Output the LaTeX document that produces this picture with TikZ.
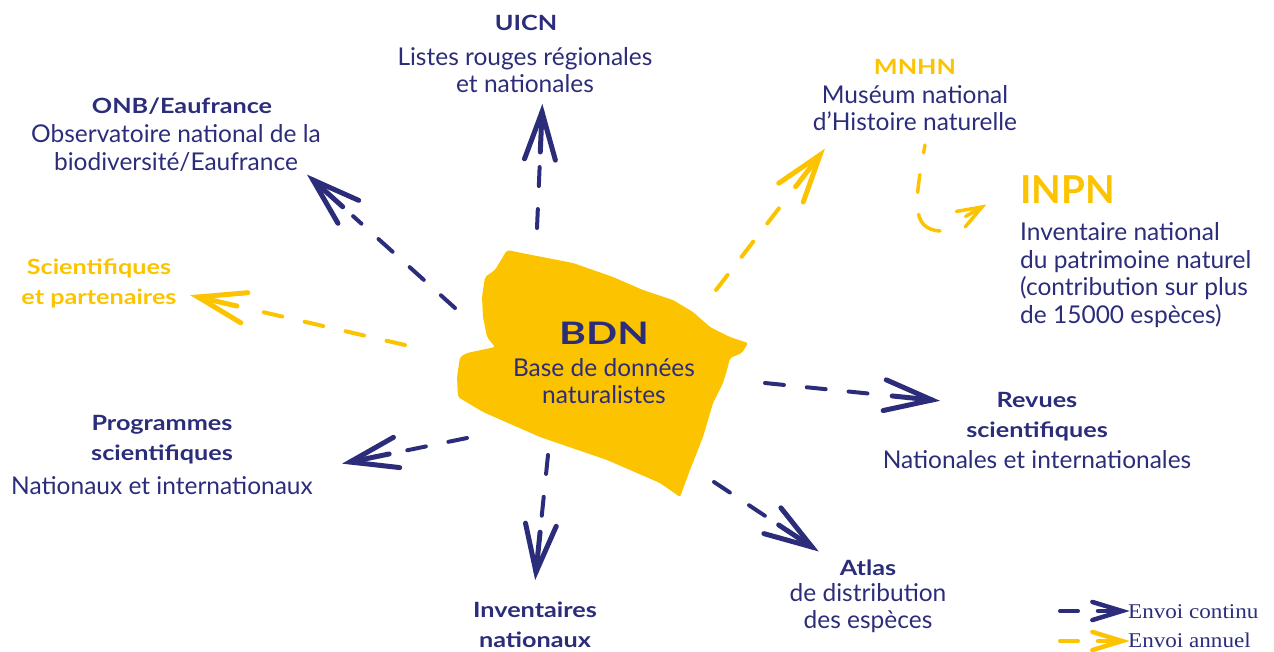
\documentclass[tikz,border=0pt]{standalone}
\usepackage{fontspec}
\setmainfont{Lato}
\newfontfamily\widebold[FakeStretch=1.2]{Lato Bold}
\newfontfamily\widerbold[FakeStretch=1.32]{Lato Bold}
\newfontfamily\legendfont[FakeStretch=1.1]{Liberation Serif}
\usetikzlibrary{calc}
\definecolor{navy}{HTML}{2C2D7A}
\definecolor{gold}{HTML}{FCC400}
\tikzset{
  flowline/.style={line width=4pt, line cap=round, dash pattern=on 19pt off 23pt},
  headline/.style={line width=5pt, line cap=round, line join=miter},
  ttl/.style={font=\fontsize{21}{30}\selectfont\widebold, align=center, inner sep=0pt},
  dsc/.style={font=\fontsize{24.5}{27.5}\selectfont, align=center, inner sep=0pt, text=navy},
  lgd/.style={font=\fontsize{21}{24}\selectfont\legendfont, text=navy, anchor=west, inner sep=0pt},
}
% dashed connector with an open three-stroke head
% #1 colour, #2 tail, #3 tip, #4 barb length, #5 half angle, #6 middle stroke
\newcommand\flow[6]{%
  \draw[#1, flowline] (#2) -- ($(#3)!#6+14pt!(#2)$);
  \draw[#1, headline] ($(#3)!#4!#5:(#2)$) -- (#3) -- ($(#3)!#4!-#5:(#2)$);
  \draw[#1, headline] (#3) -- ($(#3)!#6!(#2)$);
}
\begin{document}
\begin{tikzpicture}[x=1pt, y=-1pt]
\useasboundingbox (0,0) rectangle (1274,651);

% central blob
\fill[gold, rounded corners=2pt] (507,250) -- (537,256) -- (573,263) -- (613,277) -- (643,290)
  -- (673,300) -- (693,312) -- (710,327) -- (730,337) -- (748,343) -- (742,353) -- (730,358)
  -- (727,370) -- (723,383) -- (713,403) -- (703,437) -- (690,470) -- (680,497) -- (660,483)
  -- (607,460) -- (540,437) -- (483,412) -- (458,397) -- (457,377) -- (460,357) -- (467,353)
  -- (495,347) -- (487,337) -- (483,317) -- (482,297) -- (485,277) -- (495,270) -- cycle;
\node[font=\fontsize{31}{36}\selectfont\widerbold, text=navy, inner sep=0pt] (bdn) at (604,333) {BDN};
\node[dsc] (bdnd) at (604,381) {Base de données\\naturalistes};

% labels
\node[ttl, text=navy] (uicn) at (526,23) {UICN};
\node[dsc] (uicnd) at (525,70) {Listes rouges régionales\\et nationales};
\node[ttl, text=navy] (onb) at (182,106) {ONB/Eaufrance};
\node[dsc] (onbd) at (176,148) {Observatoire national de la\\biodiversité/Eaufrance};
\node[ttl, text=gold] (mnhn) at (915,67) {MNHN};
\node[dsc] (mnhnd) at (915,108) {Muséum national\\d’Histoire naturelle};
\node[font=\fontsize{38.5}{42}\selectfont\bfseries, text=gold, anchor=west, inner sep=0pt] (inpn) at (1020,190) {INPN};
\node[dsc, align=left, anchor=west] (inpnd) at (1020,275) {Inventaire national\\du patrimoine naturel\\(contribution sur plus\\de 15000 espèces)};
\node[ttl, text=gold] (sci) at (99,283) {Scientifiques\\et partenaires};
\node[ttl, text=navy] (prog) at (162,440) {Programmes\\scientifiques};
\node[dsc] (progd) at (162,486) {Nationaux et internationaux};
\node[ttl, text=navy] (inv) at (535,625) {Inventaires\\nationaux};
\node[ttl, text=navy] (atlas) at (868,568) {Atlas};
\node[dsc] (atlasd) at (868,608) {de distribution\\des espèces};
\node[ttl, text=navy] (rev) at (1037,417) {Revues\\scientifiques};
\node[dsc] (revd) at (1037,460) {Nationales et internationales};

% connector ends
\coordinate (uicnS) at (537,228);  \coordinate (uicnT) at (542,112);
\coordinate (onbS) at (455,308);   \coordinate (onbT) at (313,180);
\coordinate (mnhnS) at (716,290);  \coordinate (mnhnT) at (820,155);
\coordinate (sciS) at (405,345);   \coordinate (sciT) at (198,297);
\coordinate (progS) at (467,438);  \coordinate (progT) at (350,462);
\coordinate (invS) at (548,455);   \coordinate (invT) at (536,572);
\coordinate (atlasS) at (714,482); \coordinate (atlasT) at (812,547);
\coordinate (revS) at (765,383);   \coordinate (revT) at (932,400);

\flow{navy}{uicnS}{uicnT}{50pt}{18}{40pt}
\flow{navy}{onbS}{onbT}{50pt}{18}{40pt}
\flow{gold}{mnhnS}{mnhnT}{50pt}{18}{40pt}
\flow{gold}{sciS}{sciT}{50pt}{18}{40pt}
\flow{navy}{progS}{progT}{50pt}{18}{40pt}
\flow{navy}{invS}{invT}{50pt}{18}{40pt}
\flow{navy}{atlasS}{atlasT}{50pt}{18}{40pt}
\flow{navy}{revS}{revT}{50pt}{18}{40pt}

% MNHN to INPN hook
\coordinate (hookS) at (925,145);
\coordinate (hookE) at (940,231);
\coordinate (hookT) at (982,207);
\draw[gold, line width=3.5pt, line cap=round, dash pattern=on 8pt off 22pt on 18pt off 22pt on 40pt off 60pt]
  (hookS) .. controls (915,200) and (910,229) .. (hookE);
\draw[gold, line width=3.5pt, line cap=round] ($(hookT)!26pt!20:(hookE)$) -- (hookT) -- ($(hookT)!26pt!-20:(hookE)$);
\draw[gold, line width=3.5pt, line cap=round] (hookT) -- ($(hookT)!19pt!(hookE)$);

% legend
\coordinate (lg1a) at (1060,611); \coordinate (lg1b) at (1078,611); \coordinate (lg1t) at (1122,611);
\coordinate (lg2a) at (1060,641); \coordinate (lg2b) at (1078,641); \coordinate (lg2t) at (1122,641);
\draw[navy, line width=4pt, line cap=round] (lg1a) -- (lg1b);
\draw[navy, headline, line width=4.5pt] ($(lg1t)!31pt!17:(lg1a)$) -- (lg1t) -- ($(lg1t)!31pt!-17:(lg1a)$);
\draw[navy, headline, line width=4.5pt] (lg1t) -- ($(lg1t)!24pt!(lg1a)$);
\draw[gold, line width=4pt, line cap=round] (lg2a) -- (lg2b);
\draw[gold, headline, line width=4.5pt] ($(lg2t)!31pt!17:(lg2a)$) -- (lg2t) -- ($(lg2t)!31pt!-17:(lg2a)$);
\draw[gold, headline, line width=4.5pt] (lg2t) -- ($(lg2t)!24pt!(lg2a)$);
\node[lgd] (lgc) at (1128,612) {Envoi continu};
\node[lgd] (lga) at (1128,640) {Envoi annuel};
\end{tikzpicture}
\end{document}
